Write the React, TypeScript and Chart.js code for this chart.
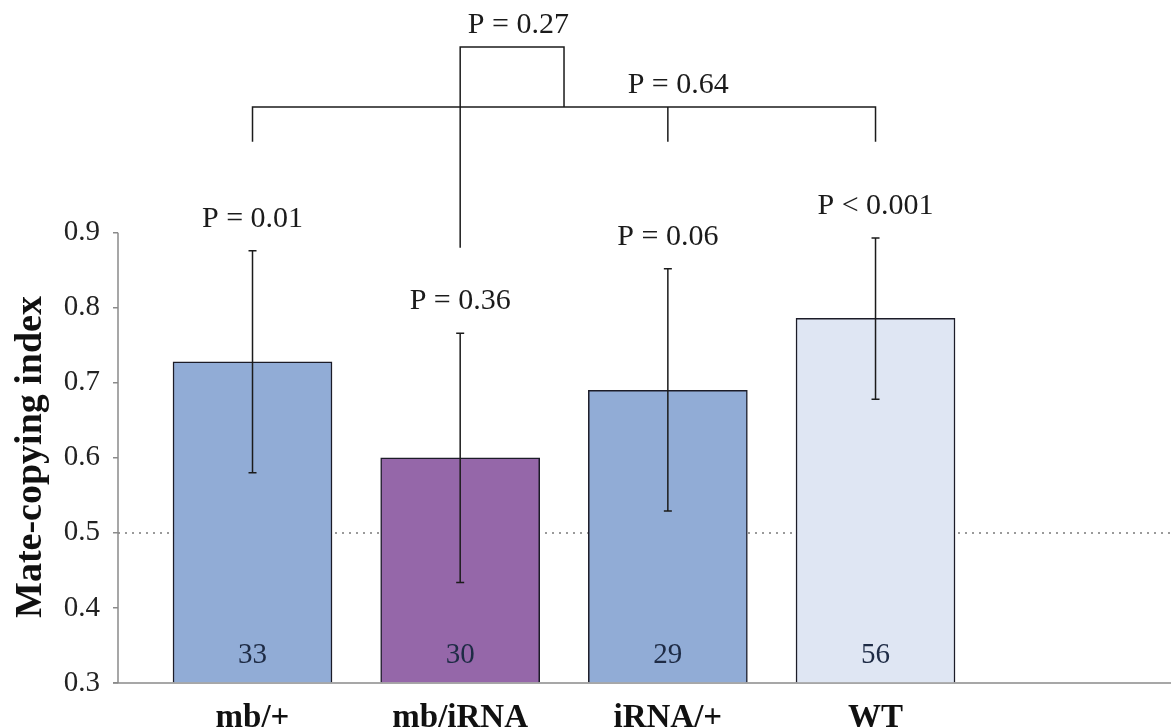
import { useEffect, useRef } from "react";
import { Chart, registerables } from "chart.js";

Chart.register(...registerables);

// Groups and their slot positions on the x axis
const groups = ["mb/+", "mb/iRNA", "iRNA/+", "WT"];
const slots = [1, 2, 3, 4];

// Mean mate-copying index per group, with error-bar limits
const meanIndex = [0.728, 0.6, 0.69, 0.786];
const errLow = [0.58, 0.434, 0.529, 0.678];
const errHigh = [0.876, 0.766, 0.852, 0.893];

// Sample sizes printed inside the bars
const sampleSizes = ["33", "30", "29", "56"];

// Per-group test against chance
const groupP = ["P = 0.01", "P = 0.36", "P = 0.06", "P < 0.001"];

// Between-group comparisons
const compareAllP = "P = 0.64";
const compareMbP = "P = 0.27";

// y axis ticks and chance level
const yTicks = [0.3, 0.4, 0.5, 0.6, 0.7, 0.8, 0.9];
const chanceLevel = 0.5;

const barFill = ["#91acd6", "#9567a9", "#91acd6", "#dfe6f3"];

const SERIF = "'Liberation Serif', 'Times New Roman', serif";
const INK = "#1b1b1b";
const AXIS = "#8a8a8a";

const overlay = {
  id: "overlay",
  beforeDatasetsDraw(chart: any) {
    const { ctx, chartArea, scales } = chart;
    const y = scales.y;
    const yTop = y.getPixelForValue(yTicks[yTicks.length - 1]);
    const yBot = y.getPixelForValue(yTicks[0]);
    ctx.save();
    // chance level
    ctx.strokeStyle = "#7a7a7a";
    ctx.lineWidth = 1.5;
    ctx.setLineDash([2, 5]);
    const yc = y.getPixelForValue(chanceLevel);
    ctx.beginPath();
    ctx.moveTo(chartArea.left, yc);
    ctx.lineTo(chartArea.right, yc);
    ctx.stroke();
    ctx.setLineDash([]);
    // axis lines
    ctx.strokeStyle = AXIS;
    ctx.lineWidth = 1.5;
    ctx.beginPath();
    ctx.moveTo(chartArea.left, yTop);
    ctx.lineTo(chartArea.left, yBot);
    ctx.moveTo(chartArea.left - 5, yBot);
    ctx.lineTo(chartArea.right, yBot);
    ctx.stroke();
    ctx.restore();
  },
  afterDatasetsDraw(chart: any) {
    const { ctx, scales } = chart;
    const x = scales.x;
    const y = scales.y;
    ctx.save();
    ctx.strokeStyle = INK;
    ctx.lineWidth = 1.5;
    // error bars
    slots.forEach((s, i) => {
      const px = x.getPixelForValue(s);
      const hi = y.getPixelForValue(errHigh[i]);
      const lo = y.getPixelForValue(errLow[i]);
      ctx.beginPath();
      ctx.moveTo(px, hi);
      ctx.lineTo(px, lo);
      ctx.moveTo(px - 4, hi);
      ctx.lineTo(px + 4, hi);
      ctx.moveTo(px - 4, lo);
      ctx.lineTo(px + 4, lo);
      ctx.stroke();
    });

    // comparison brackets
    const level = y.getPixelForValue(1.0675);
    const foot = y.getPixelForValue(1.021);
    const longFoot = y.getPixelForValue(0.88);
    const boxTop = y.getPixelForValue(1.1475);
    const x1 = x.getPixelForValue(1);
    const x2 = x.getPixelForValue(2);
    const x3 = x.getPixelForValue(3);
    const x4 = x.getPixelForValue(4);
    const xMid = x.getPixelForValue(2.5);
    ctx.beginPath();
    ctx.moveTo(x1, foot);
    ctx.lineTo(x1, level);
    ctx.lineTo(x4, level);
    ctx.lineTo(x4, foot);
    ctx.moveTo(x3, level);
    ctx.lineTo(x3, foot);
    ctx.moveTo(x2, longFoot);
    ctx.lineTo(x2, boxTop);
    ctx.lineTo(xMid, boxTop);
    ctx.lineTo(xMid, level);
    ctx.stroke();

    // texts
    ctx.fillStyle = INK;
    ctx.textAlign = "center";
    ctx.textBaseline = "middle";
    ctx.font = `30px ${SERIF}`;
    slots.forEach((s, i) => {
      const px = x.getPixelForValue(s);
      ctx.fillText(groupP[i], px, y.getPixelForValue(errHigh[i]) - 32);
    });
    ctx.fillText(compareMbP, x.getPixelForValue(2.28), y.getPixelForValue(1.177));
    ctx.fillText(compareAllP, x.getPixelForValue(3.05), y.getPixelForValue(1.097));

    ctx.font = `29px ${SERIF}`;
    ctx.fillStyle = "#1e2b45";
    slots.forEach((s, i) => {
      ctx.fillText(sampleSizes[i], x.getPixelForValue(s), y.getPixelForValue(yTicks[0]) - 28);
    });

    // y axis title
    ctx.fillStyle = "#111";
    ctx.font = `bold 38px ${SERIF}`;
    ctx.textBaseline = "alphabetic";
    ctx.translate(41, 457);
    ctx.rotate(-Math.PI / 2);
    ctx.fillText("Mate-copying index", 0, 0);
    ctx.restore();
  },
};

export default function App() {
  const ref = useRef<HTMLCanvasElement>(null);

  useEffect(() => {
    if (!ref.current) return;
    const chart = new Chart(ref.current, {
      type: "bar",
      data: {
        datasets: [
          {
            data: slots.map((s, i) => ({ x: s, y: meanIndex[i] })),
            backgroundColor: barFill,
            borderColor: "#1c1c28",
            borderWidth: 1.5,
            barThickness: 159,
            base: yTicks[0],
          } as any,
        ],
      },
      options: {
        animation: false,
        responsive: false,
        layout: { padding: 0 },
        plugins: { legend: { display: false }, tooltip: { enabled: false } },
        scales: {
          x: {
            type: "linear",
            offset: false,
            min: 0.3523,
            max: 5.4228,
            afterBuildTicks: (scale: any) => {
              scale.ticks = slots.map((v) => ({ value: v }));
            },
            afterFit: (scale: any) => {
              scale.height = 44;
              scale.paddingLeft = 0;
              scale.paddingRight = 0;
            },
            ticks: {
              callback: (v: any) => groups[slots.indexOf(Number(v))] ?? "",
              font: { family: SERIF, size: 33, weight: "bold" },
              color: "#111",
              padding: 8,
              maxRotation: 0,
              autoSkip: false,
            },
            grid: { display: false },
            border: { display: false },
          },
          y: {
            type: "linear",
            min: 0.3,
            max: 1.21,
            afterBuildTicks: (scale: any) => {
              scale.ticks = yTicks.map((v) => ({ value: v }));
            },
            afterFit: (scale: any) => {
              scale.width = 118;
              scale.paddingTop = 0;
              scale.paddingBottom = 0;
            },
            ticks: {
              callback: (v: any) => Number(v).toFixed(1),
              font: { family: SERIF, size: 29 },
              color: "#222",
              padding: 13,
            },
            grid: {
              drawOnChartArea: false,
              drawTicks: true,
              tickLength: 5,
              color: AXIS,
              lineWidth: 1.5,
            },
            border: { display: false },
          },
        },
      },
      plugins: [overlay],
    });
    return () => chart.destroy();
  }, []);

  return (
    <div style={{ position: "fixed", left: 0, top: 0, width: 1171, height: 727, background: "#fff" }}>
      <canvas ref={ref} width={1171} height={727} style={{ display: "block" }} />
    </div>
  );
}
